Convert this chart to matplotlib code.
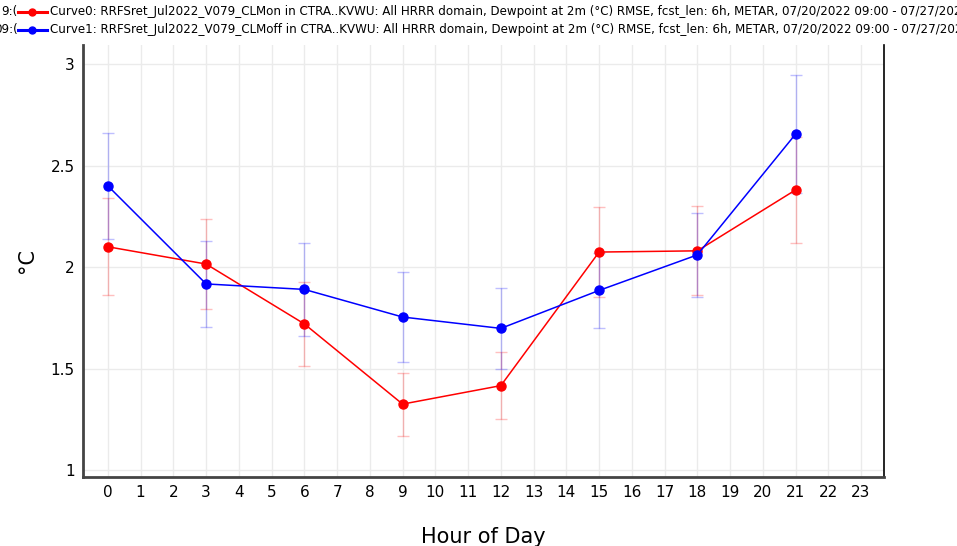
import numpy as np
import matplotlib.pyplot as plt

# hour of day and dewpoint RMSE (deg C) for the two curves
hours = [0, 3, 6, 9, 12, 15, 18, 21]
clm_on = [2.10, 2.015, 1.72, 1.325, 1.416, 2.074, 2.08, 2.38]
clm_on_err = [0.24, 0.22, 0.205, 0.155, 0.165, 0.22, 0.22, 0.26]
clm_off = [2.40, 1.917, 1.89, 1.754, 1.698, 1.885, 2.06, 2.655]
clm_off_err = [0.26, 0.21, 0.23, 0.22, 0.20, 0.185, 0.205, 0.29]

labels = [
    "Curve0: RRFSret_Jul2022_V079_CLMon in CTRA..KVWU: All HRRR domain, Dewpoint at 2m (\u00b0C) RMSE, fcst_len: 6h, METAR, 07/20/2022 09:00 - 07/27/2022 09:00",
    "Curve1: RRFSret_Jul2022_V079_CLMoff in CTRA..KVWU: All HRRR domain, Dewpoint at 2m (\u00b0C) RMSE, fcst_len: 6h, METAR, 07/20/2022 09:00 - 07/27/2022 09:00",
]
prefixes = ["9:(", "09:("]
colors = ["#ff0000", "#0000ff"]

fig = plt.figure(figsize=(9.57, 5.46), dpi=100)
ax = fig.add_axes([0.0867, 0.1264, 0.8370, 0.7912])

for y, e, c in [(clm_on, clm_on_err, colors[0]), (clm_off, clm_off_err, colors[1])]:
    ax.errorbar(hours, y, yerr=e, fmt="none", ecolor=c, alpha=0.25,
                elinewidth=1, capsize=4, capthick=1)
    ax.plot(hours, y, "-o", color=c, lw=1.1, ms=6.5, alpha=1, zorder=3)

ax.set_xlim(-0.76, 23.7)
ax.set_ylim(0.966, 3.094)
ax.set_xticks(range(24))
ax.set_yticks([1, 1.5, 2, 2.5, 3])
ax.set_yticklabels(["1", "1.5", "2", "2.5", "3"])
ax.grid(True, color="#ebebeb", lw=1)
ax.set_axisbelow(True)
ax.tick_params(length=0, labelsize=11, pad=6)

ax.spines["top"].set_visible(False)
ax.spines["left"].set_color("#444444")
ax.spines["left"].set_linewidth(2)
ax.spines["bottom"].set_color("#444444")
ax.spines["bottom"].set_linewidth(2)
ax.spines["right"].set_color("black")
ax.spines["right"].set_linewidth(1.2)

ax.set_xlabel("Hour of Day", fontsize=15, labelpad=19)
ax.set_ylabel("\u00b0C", fontsize=15, labelpad=10)

# legend rows across the top, cut off at the figure edges like the original
for i, (lab, pre, c) in enumerate(zip(labels, prefixes, colors)):
    yf = 1 - (12 + 18 * i) / 546
    fig.text(18 / 957, yf, pre, ha="right", va="center", fontsize=8.6)
    fig.add_artist(plt.Line2D([18 / 957, 47 / 957], [yf, yf], color=c, lw=2.2,
                              transform=fig.transFigure))
    fig.add_artist(plt.Line2D([32 / 957], [yf], color=c, marker="o", ms=5,
                              transform=fig.transFigure))
    fig.text(50 / 957, yf, lab, ha="left", va="center", fontsize=8.6)

fig.savefig("out.png", dpi=100)
